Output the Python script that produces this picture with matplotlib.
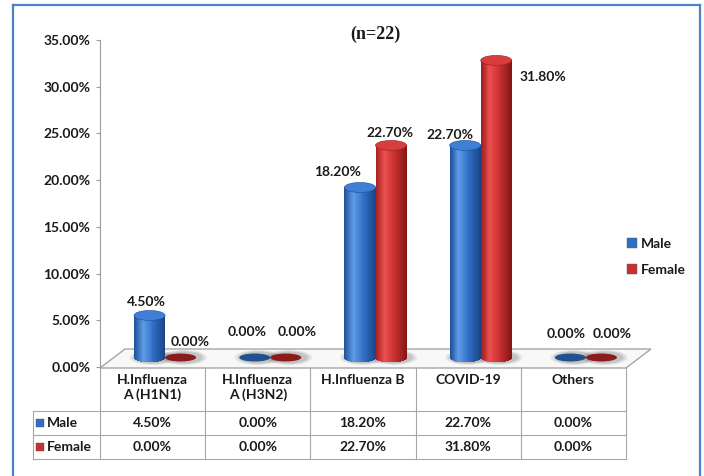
import numpy as np
import matplotlib
matplotlib.use('Agg')
import matplotlib.pyplot as plt
import matplotlib.transforms as mtransforms
from matplotlib.patches import Rectangle, Ellipse, Polygon, Patch
from matplotlib.lines import Line2D
from matplotlib.colors import LinearSegmentedColormap
from matplotlib.ticker import FuncFormatter

# Respiratory virus positivity by sex
categories = ['H.Influenza\nA (H1N1)', 'H.Influenza\nA (H3N2)', 'H.Influenza B', 'COVID-19', 'Others']
male = [4.5, 0.0, 18.2, 22.7, 0.0]
female = [0.0, 0.0, 22.7, 31.8, 0.0]
series_names = ['Male', 'Female']
title = '(n=22)'

# where each value label sits, in pixels from the top of its cylinder
male_label_off = [(-3, 13), (-8, 25), (-22, 15), (-15, 10), (-4, 24)]
female_label_off = [(10, 15), (11, 25), (-1, 12), (47, -17), (11, 24)]

W, H, DPI = 704, 476, 100
AX_L, AX_R, AX_TOP, AX_BOT = 100, 626, 40, 367
DEPTH = (25, 19)          # floor depth in pixels (right, up)
YMAX = 35
BAR_W = 0.295             # cylinder width in category units
CAP_PX = 5                # half height of the cylinder caps
GRID = '#A6A6A6'
TXT = '#1A1A1A'

plt.rcParams['font.family'] = ['Lato', 'DejaVu Sans']
plt.rcParams['font.weight'] = 'bold'

fig = plt.figure(figsize=(W / DPI, H / DPI), dpi=DPI)
fig.patch.set_facecolor('white')
# pixel coordinates measured from the top-left corner
PX = mtransforms.Affine2D().scale(1 / W, -1 / H).translate(0, 1) + fig.transFigure

ax = fig.add_axes([AX_L / W, 1 - AX_BOT / H, (AX_R - AX_L) / W, (AX_BOT - AX_TOP) / H])
n = len(categories)
ax.set_xlim(0, n)
ax.set_ylim(0, YMAX)
ax.set_facecolor('none')
for s in ['top', 'right', 'bottom']:
    ax.spines[s].set_visible(False)
ax.spines['left'].set_color('#9C9C9C')
ax.set_xticks([])
ax.set_yticks(np.arange(0, YMAX + 1, 5))
ax.yaxis.set_major_formatter(FuncFormatter(lambda v, _: f'{v:.2f}%'))
ax.tick_params(axis='y', direction='out', length=3, width=0.8, color='#9C9C9C',
               pad=4, labelsize=10, labelcolor=TXT)

ppu = (AX_BOT - AX_TOP) / YMAX          # pixels per percent
cap = CAP_PX / ppu                       # cap half height in data units

# floor of the 3D plot
floor = Polygon([(AX_L, AX_BOT + 1), (AX_R, AX_BOT + 1),
                 (AX_R + DEPTH[0], AX_BOT + 1 - DEPTH[1]), (AX_L + DEPTH[0], AX_BOT + 1 - DEPTH[1])],
                closed=True, transform=PX, fc='#F8F8F8', ec=GRID, lw=1.0, clip_on=False, zorder=1)
ax.add_patch(floor)

# cylinders stand half way into the floor
mid = mtransforms.offset_copy(ax.transData, fig=fig, x=DEPTH[0] / 2, y=DEPTH[1] / 2, units='dots')

blue_cm = LinearSegmentedColormap.from_list('b', [(0, '#1D4F98'), (0.3, '#5E9BE6'),
                                                  (0.62, '#2F6EC4'), (1, '#1A4485')])
red_cm = LinearSegmentedColormap.from_list('r', [(0, '#9C1C1C'), (0.3, '#EC5050'),
                                                 (0.62, '#C92F2F'), (1, '#821515')])


def shadow(xc):
    for k, a in zip([1.5, 1.35, 1.2], [0.10, 0.12, 0.16]):
        ax.add_patch(Ellipse((xc + 0.03, 0), BAR_W * k, 2 * cap * k, transform=mid,
                             fc='#606060', ec='none', alpha=a, clip_on=False, zorder=2))


def cylinder(xc, value, cm, top, flat):
    shadow(xc)
    if value <= 0:
        ax.add_patch(Ellipse((xc, 0), BAR_W, 1.6 * cap, transform=mid,
                             fc=flat, ec='none', clip_on=False, zorder=3))
        return
    edges = np.linspace(-1, 1, 33)
    half = BAR_W / 2
    for a, b in zip(edges[:-1], edges[1:]):
        u = (a + b) / 2
        yb = -cap * np.sqrt(max(0.0, 1 - u * u))
        ax.add_patch(Rectangle((xc + a * half, yb), (b - a) * half * 1.15, value - yb,
                               transform=mid, fc=cm((u + 1) / 2), ec='none', lw=0,
                               clip_on=False, zorder=3))
    ax.add_patch(Ellipse((xc, value), BAR_W, 2 * cap, transform=mid, fc=top,
                         ec=cm(0.9), lw=0.4, clip_on=False, zorder=4))


for i in range(n):
    xm = i + 0.5 - BAR_W / 2
    xf = i + 0.5 + BAR_W / 2
    cylinder(xm, male[i], blue_cm, '#3F80D6', '#22508F')
    cylinder(xf, female[i], red_cm, '#D93C3C', '#8A1C1C')
    ax.annotate(f'{male[i]:.2f}%', xy=(xm, male[i]), xycoords=mid, xytext=male_label_off[i],
                textcoords='offset pixels', ha='center', va='center', fontsize=10,
                color=TXT, zorder=5, annotation_clip=False)
    ax.annotate(f'{female[i]:.2f}%', xy=(xf, female[i]), xycoords=mid, xytext=female_label_off[i],
                textcoords='offset pixels', ha='center', va='center', fontsize=10,
                color=TXT, zorder=5, annotation_clip=False)

# data table under the floor
col = mtransforms.blended_transform_factory(ax.transData, PX)
ROW_TOP, ROW_M, ROW_F, ROW_END = AX_BOT + 1, 411, 435, 459
TAB_L = 33
for x in range(n + 1):
    ax.add_line(Line2D([x, x], [ROW_TOP, ROW_END], transform=col, color=GRID, lw=0.8, clip_on=False))
for y in [ROW_M, ROW_F, ROW_END]:
    ax.add_line(Line2D([TAB_L, AX_R], [y, y], transform=PX, color=GRID, lw=0.8, clip_on=False))
ax.add_line(Line2D([TAB_L, TAB_L], [ROW_M, ROW_END], transform=PX, color=GRID, lw=0.8, clip_on=False))

for i, c in enumerate(categories):
    ax.text(i + 0.5, 374, c, transform=col, ha='center', va='top', fontsize=10,
            linespacing=1.2, color=TXT)
    ax.text(i + 0.5, (ROW_M + ROW_F) / 2, f'{male[i]:.2f}%', transform=col,
            ha='center', va='center', fontsize=10, color=TXT)
    ax.text(i + 0.5, (ROW_F + ROW_END) / 2, f'{female[i]:.2f}%', transform=col,
            ha='center', va='center', fontsize=10, color=TXT)

for name, colr, (y0, y1) in zip(series_names, ['#2F6EC4', '#C92F2F'],
                                [(ROW_M, ROW_F), (ROW_F, ROW_END)]):
    yc = (y0 + y1) / 2
    ax.add_patch(Rectangle((36, yc - 4), 8, 8, transform=PX, fc=colr, ec='#5A5A5A',
                           lw=0.3, clip_on=False))
    ax.text(47, yc, name, transform=PX, ha='left', va='center', fontsize=10, color=TXT)

# legend on the right
handles = [Patch(fc='#2F6EC4', ec='#5A5A5A', lw=0.3), Patch(fc='#C92F2F', ec='#5A5A5A', lw=0.3)]
fig.legend(handles, series_names, loc='center left', bbox_to_anchor=(614 / W, 1 - 257 / H),
           frameon=False, fontsize=10, handlelength=0.75, handleheight=0.75,
           handletextpad=0.25, labelspacing=1.0, labelcolor=TXT)

fig.text(375 / W, 1 - 34 / H, title, ha='center', va='center', fontsize=13,
         family='Liberation Serif', weight='bold', color=TXT)

# blue frame around the chart
for xs, ys in [([13, 13], [480, 5]), ([13, 700], [5, 5]), ([700, 700], [5, 480])]:
    fig.add_artist(Line2D(xs, ys, transform=PX, color='#4F81C8', lw=1.6))

fig.savefig('out.png', dpi=DPI)
